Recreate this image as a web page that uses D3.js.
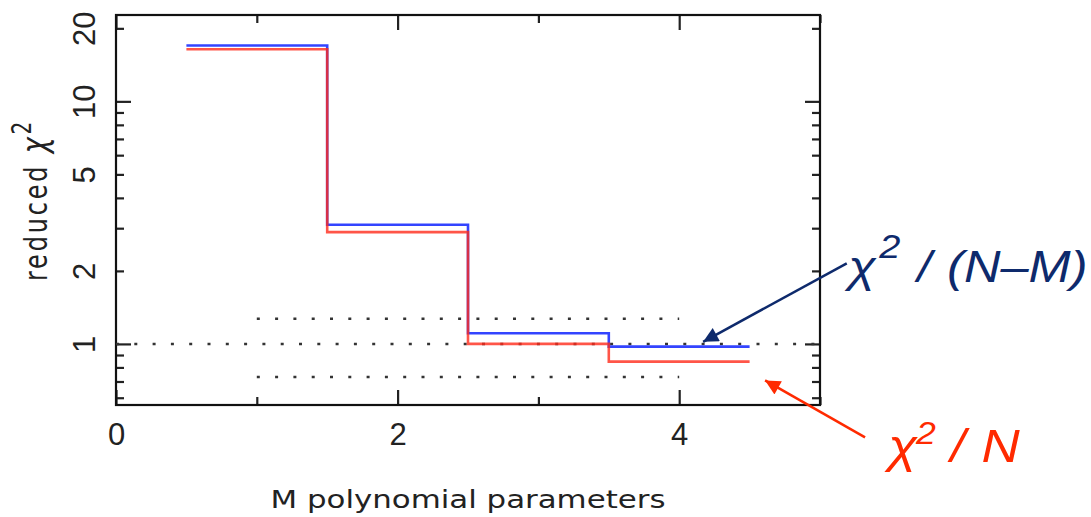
<!DOCTYPE html>
<html>
<head>
<meta charset="utf-8">
<script src="https://cdn.jsdelivr.net/npm/d3@7"></script>
<style>
  body { margin: 0; background: #fff; }
  svg { display: block; }
</style>
</head>
<body>
<div id="chart"></div>
<script>
const W = 1091, H = 517;

// number of polynomial parameters M
const M = [1, 2, 3, 4];
// chi2 / (N-M)  (blue) and chi2 / N  (red)
const chiNM = [17.0, 3.10, 1.107, 0.975];
const chiN = [16.4, 2.89, 1.0, 0.845];

// dotted reference levels
const refLevels = [1, 1.27, 0.73];
const refFrom = [0, 1, 1];
const refTo = [5, 4, 4];

const xTicks = [0, 1, 2, 3, 4, 5];
const xLabels = [0, 2, 4];
const xMajor = [0, 2, 4];
const yTicks = [0.6, 0.7, 0.8, 0.9, 1, 2, 3, 4, 5, 6, 7, 8, 9, 10, 20];
const yLabels = [1, 2, 5, 10, 20];
const yMajor = [1, 10];

const margin = { left: 116, top: 15, right: 271, bottom: 112 };
const iw = W - margin.left - margin.right;
const ih = H - margin.top - margin.bottom;

const svg = d3.select("#chart").append("svg")
    .attr("width", W)
    .attr("height", H);

const g = svg.append("g")
    .attr("transform", `translate(${margin.left},${margin.top})`);

const x = d3.scaleLinear().domain([0, 5]).range([0, iw]);
const y = d3.scaleLog().domain([0.56, 22.7]).range([ih, 0]);

const tickFont = "'Liberation Sans', Arial, sans-serif";
const titleFont = "'DejaVu Sans', sans-serif";

// axes, ticks pointing inwards on all four sides
function styleAxis(sel) {
    sel.select(".domain").remove();
    sel.selectAll(".tick line").attr("stroke", "#222").attr("stroke-width", 2.2);
    sel.selectAll("text").attr("fill", "#222")
        .style("font-family", tickFont).style("font-size", "31px");
}

const bottomAxis = g.append("g")
    .attr("transform", `translate(0,${ih})`)
    .call(d3.axisBottom(x).tickValues(xTicks)
        .tickSize(-8)
        .tickFormat(d => xLabels.includes(d) ? d : ""));
styleAxis(bottomAxis);
bottomAxis.selectAll(".tick line").attr("y2", d => xMajor.includes(d) ? -15 : -8);
bottomAxis.selectAll(".tick text").attr("y", 40).attr("dy", 0);

const topAxis = g.append("g")
    .call(d3.axisTop(x).tickValues(xTicks).tickSize(-8).tickFormat(""));
styleAxis(topAxis);
topAxis.selectAll(".tick line").attr("y2", d => xMajor.includes(d) ? 15 : 8);

const leftAxis = g.append("g")
    .call(d3.axisLeft(y).tickValues(yTicks)
        .tickSize(-8)
        .tickFormat(d => yLabels.includes(d) ? d : ""));
styleAxis(leftAxis);
leftAxis.selectAll(".tick line").attr("x2", d => yMajor.includes(d) ? 15 : 8);
leftAxis.selectAll(".tick text")
    .attr("transform", "rotate(-90)")
    .attr("text-anchor", "middle")
    .attr("x", 0)
    .attr("y", -21)
    .attr("dy", 0);

const rightAxis = g.append("g")
    .attr("transform", `translate(${iw},0)`)
    .call(d3.axisRight(y).tickValues(yTicks).tickSize(-8).tickFormat(""));
styleAxis(rightAxis);
rightAxis.selectAll(".tick line").attr("x2", d => yMajor.includes(d) ? -15 : -8);

// frame
g.append("rect")
    .attr("width", iw)
    .attr("height", ih)
    .attr("fill", "none")
    .attr("stroke", "#111")
    .attr("stroke-width", 2.2);

// dotted reference lines
g.selectAll(".ref")
    .data(refLevels)
    .enter().append("line")
    .attr("class", "ref")
    .attr("x1", (d, i) => x(refFrom[i]))
    .attr("x2", (d, i) => x(refTo[i]))
    .attr("y1", d => y(d))
    .attr("y2", d => y(d))
    .attr("stroke", "#333")
    .attr("stroke-width", 2.5)
    .attr("stroke-dasharray", "3 15.3");

// step curves
function stepPoints(vals) {
    const pts = M.map((m, i) => [m - 0.5, vals[i]]);
    pts.push([M[M.length - 1] + 0.5, vals[vals.length - 1]]);
    return pts;
}
const step = d3.line()
    .x(d => x(d[0]))
    .y(d => y(d[1]))
    .curve(d3.curveStepAfter);

g.append("path")
    .attr("d", step(stepPoints(chiNM)))
    .attr("fill", "none")
    .attr("stroke", "#3344ff")
    .attr("stroke-width", 2.6);

g.append("path")
    .attr("d", step(stepPoints(chiN)))
    .attr("fill", "none")
    .attr("stroke", "#ff2a1a")
    .attr("stroke-opacity", 0.8)
    .attr("stroke-width", 2.6);

// axis titles (the original figure is stretched sideways, so are its titles)
svg.append("text")
    .attr("x", margin.left + iw / 2)
    .attr("y", 508)
    .attr("text-anchor", "middle")
    .attr("textLength", 395)
    .attr("lengthAdjust", "spacingAndGlyphs")
    .style("font-family", titleFont)
    .style("font-size", "25px")
    .attr("fill", "#222")
    .text("M polynomial parameters");

const yTitle = svg.append("text")
    .attr("transform", `translate(47,200) rotate(-90) scale(1,1.3)`)
    .attr("text-anchor", "middle")
    .style("font-family", titleFont)
    .style("font-size", "24px")
    .style("letter-spacing", "2.8px")
    .attr("fill", "#222");
yTitle.append("tspan").text("reduced ");
yTitle.append("tspan").style("font-style", "italic").style("font-size", "27px").text("χ");
yTitle.append("tspan").style("font-size", "20px").attr("dy", -12).text("2");

// annotations (arrow and label anchor in data coordinates)
const navy = "#0e2a6c", orange = "#ff2a00";
const defs = svg.append("defs");
[["headNavy", navy], ["headRed", orange]].forEach(([id, c]) => {
    defs.append("marker")
        .attr("id", id)
        .attr("viewBox", "0 0 10 10")
        .attr("refX", 10).attr("refY", 5)
        .attr("markerWidth", 7).attr("markerHeight", 6)
        .attr("markerUnits", "strokeWidth")
        .attr("orient", "auto")
        .append("path")
        .attr("d", "M0,0 L10,5 L0,10 Z")
        .attr("fill", c);
});

const annotations = [
    { color: navy, marker: "headNavy", from: [5.19, 2.15], to: [4.17, 1.02], at: [5.20, 1.806],
      size: 44, sup: 33, raise: 24, offs: [27, 60, 86], parts: ["χ", "2", "/", "(N–M)"] },
    { color: orange, marker: "headRed", from: [5.32, 0.412], to: [4.61, 0.707], at: [5.485, 0.327],
      size: 46, sup: 31, raise: 18, offs: [24, 54, 81], parts: ["χ", "2", "/", "N"] }
];

annotations.forEach(a => {
    g.append("line")
        .attr("x1", x(a.from[0])).attr("y1", y(a.from[1]))
        .attr("x2", x(a.to[0])).attr("y2", y(a.to[1]))
        .attr("stroke", a.color)
        .attr("stroke-width", 2.5)
        .attr("marker-end", `url(#${a.marker})`);

    const t = g.append("text")
        .attr("transform", `translate(${x(a.at[0])},${y(a.at[1])}) scale(1.15,1)`)
        .attr("fill", a.color)
        .style("font-family", tickFont)
        .style("font-style", "italic")
        .style("font-size", a.size + "px");
    t.append("tspan").attr("x", 0).attr("y", 0).text(a.parts[0]);
    t.append("tspan").style("font-size", a.sup + "px")
        .attr("x", a.offs[0]).attr("y", -a.raise).text(a.parts[1]);
    t.append("tspan").attr("x", a.offs[1]).attr("y", 0).text(a.parts[2]);
    t.append("tspan").attr("x", a.offs[2]).attr("y", 0).text(a.parts[3]);
});
</script>
</body>
</html>
